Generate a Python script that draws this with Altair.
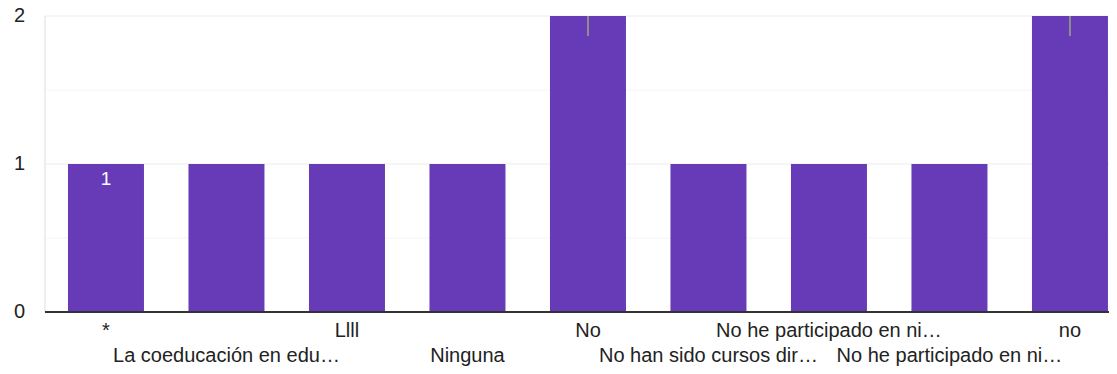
import altair as alt
import pandas as pd

labels = ["*", "La coeducación en edu…", "Llll", "Ninguna", "No",
          "No han sido cursos dir…", "No he participado en ni…",
          "No he participado en ni…", "no"]
counts = [1, 1, 1, 1, 2, 1, 1, 1, 2]
bar_annotations = ["1", "", "", "", "", "", "", "", ""]
y_ticks = [0, 1, 2]
minor_grid = [0.5, 1.5]

df = pd.DataFrame({
    "idx": list(range(len(labels))),
    "label": labels,
    "count": counts,
    "ann": bar_annotations,
})
df["row"] = df["idx"] % 2
ticks_df = pd.DataFrame({"v": y_ticks, "t": [str(v) for v in y_ticks]})

PURPLE = "#673ab7"
FONT = "Liberation Sans"
W, H = 1064, 296

xscale = alt.Scale(domain=[-0.506, 8.324], nice=False, zero=False, padding=0)
x = alt.X("idx:Q", scale=xscale, axis=None)
yscale = alt.Scale(domain=[0, 2], nice=False, zero=True, padding=0)

grid = alt.Chart(ticks_df).mark_rule(color="#ebebeb", strokeWidth=1).encode(
    y=alt.Y("v:Q", scale=yscale, axis=None))

minor = alt.Chart(pd.DataFrame({"v": minor_grid})).mark_rule(
    color="#f4f4f4", strokeWidth=1
).encode(y=alt.Y("v:Q", scale=yscale, axis=None))

frame = alt.Chart(ticks_df).mark_rule(color="#ebebeb", strokeWidth=1).encode(
    x=alt.value(0), y=alt.value(0), y2=alt.value(H))

bars = alt.Chart(df).mark_bar(color=PURPLE, size=76).encode(
    x=x,
    y=alt.Y("count:Q", scale=yscale, axis=None),
)

stems = alt.Chart(df).transform_filter("datum.count == 2").mark_rule(
    color="#8e8e8e", strokeWidth=2
).encode(x=x, y=alt.Y("count:Q", scale=yscale, axis=None), y2=alt.value(20))

ann = alt.Chart(df).transform_filter("datum.ann != ''").mark_text(
    color="white", fontSize=19, font=FONT, baseline="middle", dy=15
).encode(x=x, y=alt.Y("count:Q", scale=yscale, axis=None), text="ann:N")

baseline = alt.Chart(pd.DataFrame({"v": [0]})).mark_rule(
    color="#333333", strokeWidth=2
).encode(y=alt.Y("v:Q", scale=yscale, axis=None))

ylabels = alt.Chart(ticks_df).mark_text(
    fontSize=20, font=FONT, color="#222222", align="right", baseline="middle"
).encode(x=alt.value(-20), y=alt.Y("v:Q", scale=yscale, axis=None), text="t:N")

row1 = alt.Chart(df).transform_filter("datum.row == 0").mark_text(
    fontSize=20, font=FONT, color="#222222", baseline="alphabetic"
).encode(x=x, y=alt.value(321), text="label:N")

row2 = alt.Chart(df).transform_filter("datum.row == 1").mark_text(
    fontSize=20, font=FONT, color="#222222", baseline="alphabetic"
).encode(x=x, y=alt.value(346), text="label:N")

chart = alt.layer(grid, minor, frame, bars, stems, ann, baseline, ylabels,
                  row1, row2).properties(
    width=W, height=H,
    autosize=alt.AutoSizeParams(type="none"),
    padding={"left": 37, "top": 8, "right": 0, "bottom": 54},
).configure_view(stroke=None)

chart.save("out.html", embed_options={"renderer": "svg", "actions": False})
